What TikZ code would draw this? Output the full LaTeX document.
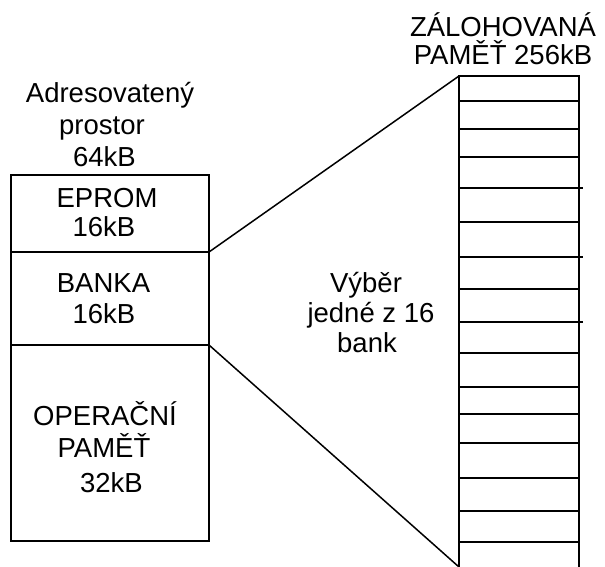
\documentclass[tikz,border=0pt]{standalone}
\usepackage{fontspec}
\setmainfont{Liberation Sans}
\begin{document}
\begin{tikzpicture}[x=1pt,y=-1pt,
  txt/.style={font=\fontsize{27.5}{31}\selectfont, inner sep=0pt, anchor=base},
  part/.style={draw, line width=2pt, minimum width=198pt, inner sep=0pt, outer sep=0pt, anchor=north west},
  colbox/.style={draw=none, minimum width=120pt, minimum height=491pt, inner sep=0pt, outer sep=0pt, anchor=north west},
  edge/.style={line width=2pt},
  stripe/.style={line width=1.8pt},
  conn/.style={line width=1.5pt}]
\useasboundingbox (0,0) rectangle (605,567);
% left address space
\node[part, minimum height=77pt] (eprom) at (11,175) {};
\node[part, minimum height=93pt] (banka) at (eprom.south west) {};
\node[part, minimum height=196pt] (oper) at (banka.south west) {};
% right backed-up memory column
\node[colbox] (col) at (459,76) {};
\draw[edge] (col.south west) -- (col.north west) -- (col.north east) -- (col.south east);
\foreach \yy in {101,129,157,222,289,353,387,414,443,478,511,542}
  \draw[stripe] (col.west |- 0,\yy) -- (col.east |- 0,\yy);
\foreach \yy in {188,257,322}
  \draw[stripe] (col.west |- 0,\yy) -- ([xshift=3.5pt]col.east |- 0,\yy);
% connectors
\draw[conn] (banka.north east) -- (col.north west);
\draw[conn] (banka.south east) -- (col.south west);
% texts
\node[txt] (t1) at (503,37) {ZÁLOHOVANÁ};
\node[txt] (t2) at (503,65) {PAMĚŤ 256kB};
\node[txt] (a1) at (110,103) {Adresovatený};
\node[txt] (a2) at (102,135) {prostor};
\node[txt] (a3) at (104.5,167) {64kB};
\node[txt] (e1) at (107,207) {EPROM};
\node[txt] (e2) at (104,236) {16kB};
\node[txt] (b1) at (103.5,292) {BANKA};
\node[txt] (b2) at (104,323) {16kB};
\node[txt] (o1) at (105,425) {OPERAČNÍ};
\node[txt] (o2) at (104,457) {PAMĚŤ};
\node[txt] (o3) at (111.5,492) {32kB};
\node[txt] (v1) at (366,292) {Výběr};
\node[txt] (v2) at (371,322) {jedné z 16};
\node[txt] (v3) at (367,352) {bank};
\end{tikzpicture}
\end{document}
